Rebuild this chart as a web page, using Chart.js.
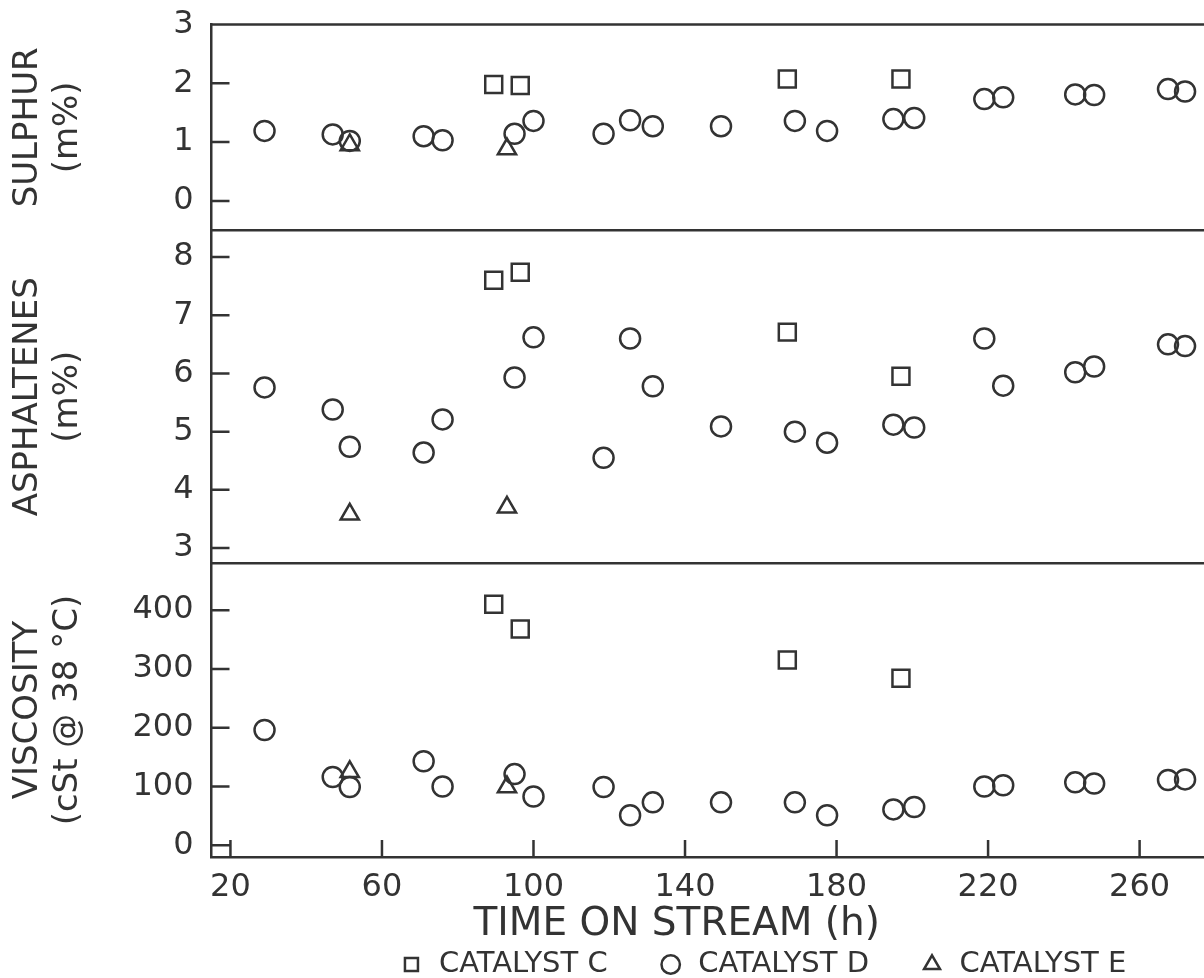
<!DOCTYPE html>
<html>
<head>
<meta charset="utf-8">
<script src="https://cdn.jsdelivr.net/npm/chart.js@4.4.0/dist/chart.umd.min.js"></script>
<style>
  html, body { margin: 0; padding: 0; background: #fff; overflow: hidden; }
  #wrap { width: 1204px; height: 978px; }
</style>
</head>
<body>
<div id="wrap"><canvas id="myChart"></canvas></div>
<script>
// time on stream (h) for each catalyst
const timeC = [89.5, 96.5, 167, 197];
const timeD = [29, 47, 51.5, 71, 76, 95, 100, 118.5, 125.5, 131.5, 149.5, 169, 177.5, 195, 200.5, 219, 224, 243, 248, 267.5, 272];
const timeE = [51.5, 93];

// sulphur (m%)
const sulphurC = [1.98, 1.96, 2.07, 2.07];
const sulphurD = [1.19, 1.13, 1.02, 1.10, 1.03, 1.14, 1.36, 1.14, 1.37, 1.27, 1.27, 1.36, 1.19, 1.39, 1.41, 1.73, 1.76, 1.81, 1.80, 1.90, 1.86];
const sulphurE = [0.95, 0.88];

// asphaltenes (m%)
const asphC = [7.6, 7.74, 6.71, 5.95];
const asphD = [5.76, 5.38, 4.74, 4.64, 5.21, 5.93, 6.62, 4.55, 6.60, 5.78, 5.09, 5.00, 4.81, 5.12, 5.07, 6.60, 5.79, 6.02, 6.12, 6.50, 6.47];
const asphE = [3.58, 3.70];

// viscosity (cSt @ 38 C)
const viscC = [410, 368, 315, 284];
const viscD = [196, 116, 99, 143, 100, 121, 83, 99, 51, 73, 73, 73, 51, 61, 65, 100, 102, 107, 105, 111, 112];
const viscE = [125, 99];

const xTicks = [20, 60, 100, 140, 180, 220, 260];
const sulphurTicks = [0, 1, 2, 3];
const asphTicks = [3, 4, 5, 6, 7, 8];
const viscTicks = [0, 100, 200, 300, 400];

const ink = '#333';
const fam = "'DejaVu Sans', sans-serif";
Chart.defaults.font.family = fam;
Chart.defaults.color = ink;

const pts = (xs, ys) => xs.map((x, i) => ({x: x, y: ys[i]}));
const marker = {
  C: {pointStyle: 'rect', pointRadius: 12},
  D: {pointStyle: 'circle', pointRadius: 10},
  E: {pointStyle: 'triangle', pointRadius: 10.5}
};
function ds(cat, xs, ys, axis, label) {
  return Object.assign({
    label: label || 'CATALYST ' + cat,
    data: pts(xs, ys),
    yAxisID: axis,
    borderColor: ink,
    backgroundColor: 'rgba(0,0,0,0)',
    borderWidth: 2.5,
    pointHoverRadius: 10
  }, marker[cat]);
}

const fixTicks = list => scale => { scale.ticks = list.map(v => ({value: v})); };

function yAxis(order, stackW, min, max, ticks, title) {
  return {
    type: 'linear', position: 'left', stack: 'panels', stackWeight: stackW, weight: order,
    min: min, max: max,
    afterBuildTicks: fixTicks(ticks),
    grid: {display: false, drawTicks: false},
    border: {display: true, color: ink, width: 2.5},
    ticks: {font: {size: 32, lineHeight: 0.4}, color: ink, padding: 18, autoSkip: false},
    title: {display: true, text: title, color: ink, font: {size: 34, lineHeight: 1.18}, padding: {top: -5, bottom: 60}}
  };
}

// panel separators and inward tick marks
const panelFrame = {
  id: 'panelFrame',
  afterDatasetsDraw(chart) {
    const {ctx, chartArea, scales} = chart;
    ctx.save();
    ctx.strokeStyle = ink;
    ctx.lineWidth = 2.5;
    ctx.beginPath();
    ['yS', 'yA', 'yV'].forEach(id => {
      const s = scales[id];
      ctx.moveTo(chartArea.left, s.top);
      ctx.lineTo(chartArea.right, s.top);
      s.ticks.forEach(t => {
        const y = s.getPixelForValue(t.value);
        ctx.moveTo(chartArea.left, y);
        ctx.lineTo(chartArea.left + 18, y);
      });
    });
    scales.x.ticks.forEach(t => {
      const x = scales.x.getPixelForValue(t.value);
      ctx.moveTo(x, chartArea.bottom);
      ctx.lineTo(x, chartArea.bottom - 17);
    });
    ctx.stroke();
    ctx.restore();
  }
};

new Chart(document.getElementById('myChart'), {
  type: 'scatter',
  data: {
    datasets: [
      ds('C', timeC, sulphurC, 'yS'),
      ds('D', timeD, sulphurD, 'yS'),
      ds('E', timeE, sulphurE, 'yS', 'CATALYST E   '),
      ds('C', timeC, asphC, 'yA'),
      ds('D', timeD, asphD, 'yA'),
      ds('E', timeE, asphE, 'yA'),
      ds('C', timeC, viscC, 'yV'),
      ds('D', timeD, viscD, 'yV'),
      ds('E', timeE, viscE, 'yV')
    ]
  },
  options: {
    responsive: true,
    maintainAspectRatio: false,
    animation: false,
    layout: {autoPadding: false, padding: {left: 13, top: 0, right: 0, bottom: -11}},
    scales: {
      x: {
        type: 'linear', min: 15, max: 277,
        afterBuildTicks: fixTicks(xTicks),
        grid: {display: false, drawTicks: false},
        border: {display: true, color: ink, width: 2.5},
        ticks: {font: {size: 32}, color: ink, padding: 11, maxRotation: 0, autoSkip: false},
        title: {display: true, text: 'TIME ON STREAM (h)     ', color: ink, font: {size: 39, lineHeight: 0.39}, padding: {top: 0, bottom: -32.6}}
      },
      yS: yAxis(3, 206, -0.5, 3, sulphurTicks, ['SULPHUR', '(m%)']),
      yA: yAxis(2, 333, 2.74, 8.46, asphTicks, ['ASPHALTENES', '(m%)']),
      yV: yAxis(1, 294, -20, 480, viscTicks, ['VISCOSITY', '(cSt @ 38 °C)'])
    },
    plugins: {
      tooltip: {enabled: false},
      legend: {
        position: 'bottom',
        fullSize: false,
        align: 'end',
        labels: {
          usePointStyle: true, boxWidth: 26, boxHeight: 13, padding: 50,
          color: ink, font: {size: 29},
          filter: item => item.datasetIndex < 3
        }
      }
    }
  },
  plugins: [panelFrame]
});
</script>
</body>
</html>
